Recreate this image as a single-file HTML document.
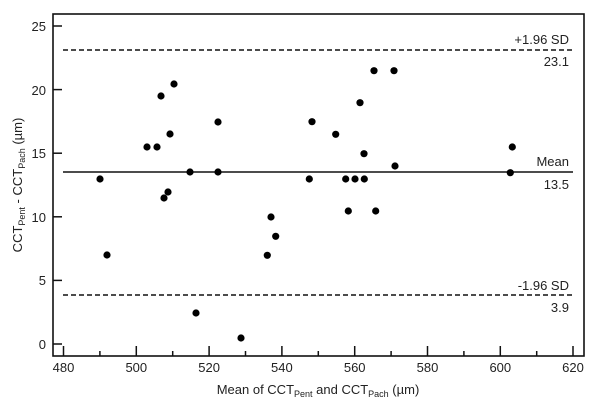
<!DOCTYPE html><html><head><style>body{margin:0;background:#fff}</style></head><body>
<svg width="600" height="410" xmlns="http://www.w3.org/2000/svg" font-family="Liberation Sans, sans-serif" font-size="13" fill="#222">
<rect x="53" y="14" width="531" height="342" fill="none" stroke="#111" stroke-width="1.6"/>
<g stroke="#111" stroke-width="1.5">
<line x1="53" y1="344" x2="62" y2="344"/><line x1="53" y1="280.4" x2="62" y2="280.4"/><line x1="53" y1="216.8" x2="62" y2="216.8"/><line x1="53" y1="153.2" x2="62" y2="153.2"/><line x1="53" y1="89.6" x2="62" y2="89.6"/><line x1="53" y1="26" x2="62" y2="26"/>
<line x1="63.5" y1="356" x2="63.5" y2="346"/><line x1="136.3" y1="356" x2="136.3" y2="346"/><line x1="209.1" y1="356" x2="209.1" y2="346"/><line x1="281.9" y1="356" x2="281.9" y2="346"/><line x1="354.7" y1="356" x2="354.7" y2="346"/><line x1="427.5" y1="356" x2="427.5" y2="346"/><line x1="500.3" y1="356" x2="500.3" y2="346"/><line x1="573" y1="356" x2="573" y2="346"/>
<line x1="99.9" y1="356" x2="99.9" y2="351"/><line x1="172.7" y1="356" x2="172.7" y2="351"/><line x1="245.5" y1="356" x2="245.5" y2="351"/><line x1="318.3" y1="356" x2="318.3" y2="351"/><line x1="391.1" y1="356" x2="391.1" y2="351"/><line x1="463.9" y1="356" x2="463.9" y2="351"/><line x1="536.7" y1="356" x2="536.7" y2="351"/>
<line x1="63" y1="172" x2="573" y2="172" stroke-width="1.6"/>
<line x1="63" y1="50" x2="573" y2="50" stroke-dasharray="5,3"/>
<line x1="63" y1="295" x2="573" y2="295" stroke-dasharray="5,3"/>
</g>
<g text-anchor="end">
<text x="46" y="349">0</text><text x="46" y="285">5</text><text x="46" y="222">10</text><text x="46" y="158">15</text><text x="46" y="95">20</text><text x="46" y="31">25</text>
<text x="569" y="44">+1.96 SD</text><text x="569" y="66">23.1</text>
<text x="569" y="166">Mean</text><text x="569" y="189">13.5</text>
<text x="569" y="290">-1.96 SD</text><text x="569" y="312">3.9</text>
</g>
<g text-anchor="middle">
<text x="63.5" y="372">480</text><text x="136.3" y="372">500</text><text x="209.1" y="372">520</text><text x="281.9" y="372">540</text><text x="354.7" y="372">560</text><text x="427.5" y="372">580</text><text x="500.3" y="372">600</text><text x="573" y="372">620</text>
<text x="318" y="394">Mean of CCT<tspan font-size="9" dy="3">Pent</tspan><tspan dy="-3"> and CCT</tspan><tspan font-size="9" dy="3">Pach</tspan><tspan dy="-3"> (µm)</tspan></text>
<text transform="translate(22,185) rotate(-90)">CCT<tspan font-size="9" dy="3">Pent</tspan><tspan dy="-3"> - CCT</tspan><tspan font-size="9" dy="3">Pach</tspan><tspan dy="-3"> (µm)</tspan></text>
</g>
<g fill="#000">
<circle cx="100" cy="179" r="3.6"/><circle cx="107" cy="255" r="3.6"/><circle cx="147" cy="147" r="3.6"/><circle cx="157" cy="147" r="3.6"/><circle cx="161" cy="96" r="3.6"/><circle cx="164" cy="198" r="3.6"/><circle cx="168" cy="192" r="3.6"/><circle cx="170" cy="134" r="3.6"/><circle cx="174" cy="84" r="3.6"/><circle cx="190" cy="172" r="3.6"/><circle cx="196" cy="313" r="3.6"/><circle cx="218" cy="122" r="3.6"/><circle cx="218" cy="172" r="3.6"/><circle cx="241" cy="338" r="3.6"/>
<circle cx="267.3" cy="255.3" r="3.6"/><circle cx="271" cy="217" r="3.6"/><circle cx="275.7" cy="236.3" r="3.6"/>
<circle cx="309.3" cy="179" r="3.6"/><circle cx="312" cy="121.7" r="3.6"/><circle cx="335.7" cy="134.3" r="3.6"/><circle cx="345.7" cy="179" r="3.6"/><circle cx="355" cy="179" r="3.6"/><circle cx="364.3" cy="179" r="3.6"/><circle cx="348.3" cy="211" r="3.6"/><circle cx="360" cy="102.7" r="3.6"/><circle cx="364" cy="153.7" r="3.6"/><circle cx="374" cy="70.7" r="3.6"/><circle cx="375.7" cy="211" r="3.6"/><circle cx="394" cy="70.7" r="3.6"/><circle cx="395" cy="166" r="3.6"/><circle cx="510.3" cy="172.7" r="3.6"/><circle cx="512.3" cy="147" r="3.6"/>
</g>
</svg>
</body></html>
